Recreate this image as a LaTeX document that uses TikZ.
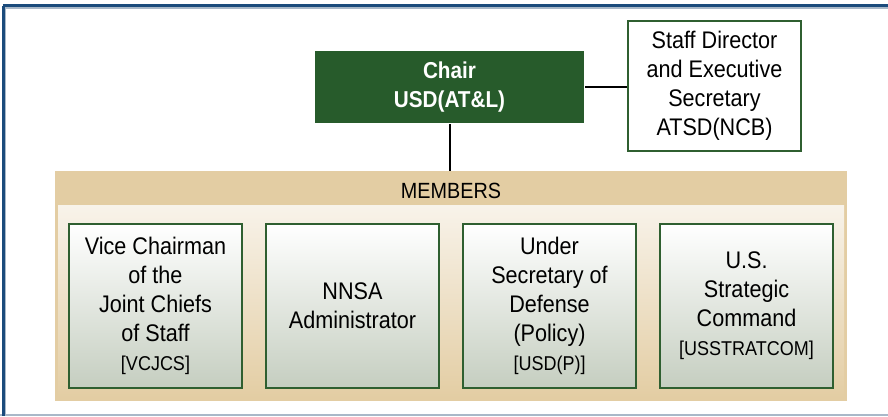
\documentclass[tikz,border=0pt]{standalone}
\usepackage{fontspec}
\setmainfont[FakeStretch=0.9]{Liberation Sans}
\usepackage{tikz}

\definecolor{frameblue}{HTML}{1B4B7C}
\definecolor{framegray}{HTML}{A9B8C8}
\definecolor{chairgreen}{HTML}{275B2B}
\definecolor{boxgreen}{HTML}{2F5F30}
\definecolor{tan}{HTML}{E3CDA3}
\definecolor{lighttan}{HTML}{F8F3EA}
\definecolor{sage}{HTML}{C5CEC0}

\begin{document}
\begin{tikzpicture}[x=1pt,y=-1pt,
		boxtext/.style={font=\fontsize{24}{29}\selectfont,align=center,inner sep=0pt}]
					\useasboundingbox (0,0) rectangle (888,416);
					\fill[white] (0,0) rectangle (888,416);
					
					% frame
					\draw[framegray,line width=1.5] (5,8) -- (888,8);
					\draw[framegray,line width=1.5] (5.5,8) -- (5.5,416);
					\draw[framegray,line width=2] (0,414.5) -- (888,414.5);
					\draw[frameblue,line width=2.5] (2.5,5.5) -- (888,5.5);
					\draw[frameblue,line width=2.5] (3.5,5.5) -- (3.5,416);
					
					% members band
					\node[fill=tan,minimum width=792,minimum height=230,inner sep=0pt] (members) at (451,286) {};
					\fill[top color=lighttan,bottom color=tan] (58,205) rectangle (844,398);
					\node[boxtext,font=\fontsize{22}{26}\selectfont] (head) at (451,191) {MEMBERS};
					
					\begin{scope}[every node/.style={boxtext,draw=boxgreen,line width=2,fill=white}]
						\node[fill=chairgreen,draw=none,text=white,font=\fontsize{23}{29}\selectfont\bfseries,minimum width=269,minimum height=72] (chair) at (449.5,87) {Chair\\USD(AT\&L)};
						\node[minimum width=173,minimum height=130] (staff) at (714.5,86) {Staff Director\\and Executive\\Secretary\\ATSD(NCB)};
					\end{scope}
					
					\begin{scope}[every node/.style={boxtext,draw=boxgreen,line width=2,top color=white,bottom color=sage,minimum width=173,minimum height=164}]
						\node (vcjcs) at (155.5,306) {Vice Chairman\\of the\\Joint Chiefs\\of Staff\\{\fontsize{20}{29}\selectfont[VCJCS]}};
						\node (nnsa) at (352.5,306) {NNSA\\Administrator};
						\node (usdp) at (549.5,306) {Under\\Secretary of\\Defense\\(Policy)\\{\fontsize{20}{29}\selectfont[USD(P)]}};
						\node (stratcom) at (746.5,306) {U.S.\\Strategic\\Command\\{\fontsize{20}{29}\selectfont[USSTRATCOM]}};
					\end{scope}
					
					\begin{scope}[line width=2]
						\draw (chair.east) -- (chair.east -| staff.west);
						\draw (chair.south) -- (chair.south |- members.north);
					\end{scope}
				\end{tikzpicture}
\end{document}
